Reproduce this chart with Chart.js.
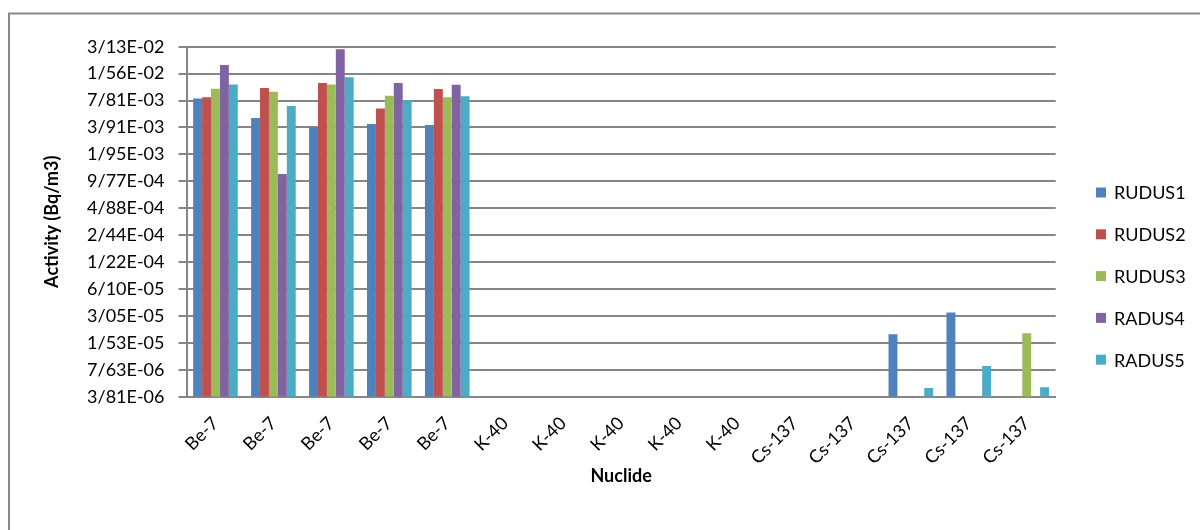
<!DOCTYPE html>
<html>
<head>
<meta charset="utf-8">
<title>Activity by nuclide</title>
<script src="https://cdn.jsdelivr.net/npm/chart.js@4.4.1/dist/chart.umd.min.js"></script>
<style>
  html, body { margin: 0; padding: 0; background: #ffffff; }
  #wrap { width: 1200px; height: 530px; }
</style>
</head>
<body>
<div id="wrap"><canvas id="chart" width="1200" height="530"></canvas></div>
<script>
// Sample categories (one per measured filter)
const categories = [
  'Be-7', 'Be-7', 'Be-7', 'Be-7', 'Be-7',
  'K-40', 'K-40', 'K-40', 'K-40', 'K-40',
  'Cs-137', 'Cs-137', 'Cs-137', 'Cs-137', 'Cs-137'
];

// Activity per station, Bq/m3 (null = not detected)
const rudus1 = [0.00826, 0.00499, 0.00394, 0.00428, 0.00416, null, null, null, null, null, null, null, 1.91e-5, 3.34e-5, null];
const rudus2 = [0.00848, 0.0108, 0.0123, 0.00635, 0.0105, null, null, null, null, null, null, null, null, null, null];
const rudus3 = [0.0106, 0.00982, 0.0118, 0.00886, 0.00848, null, null, null, null, null, null, null, null, null, 1.95e-5];
const radus4 = [0.0195, 0.00118, 0.0292, 0.0123, 0.0117, null, null, null, null, null, null, null, null, null, null];
const radus5 = [0.0118, 0.00677, 0.0142, 0.00794, 0.00873, null, null, null, null, null, null, null, 4.77e-6, 8.43e-6, 4.87e-6];

const seriesNames = ['RUDUS1', 'RUDUS2', 'RUDUS3', 'RADUS4', 'RADUS5'];

// Axis runs in powers of two
const tickExponents = [-18, -17, -16, -15, -14, -13, -12, -11, -10, -9, -8, -7, -6, -5];
const tickLabels = [
  '3/81E-06', '7/63E-06', '1/53E-05', '3/05E-05', '6/10E-05', '1/22E-04', '2/44E-04',
  '4/88E-04', '9/77E-04', '1/95E-03', '3/91E-03', '7/81E-03', '1/56E-02', '3/13E-02'
];
const tickValues = tickExponents.map(e => Math.pow(2, e));

const colors = ['#4F81BD', '#C0504D', '#9BBB59', '#8064A2', '#4BACC6'];
const FONT = 'Lato, "Open Sans", "Liberation Sans", sans-serif';
const GRID = '#868686';

const seriesData = [rudus1, rudus2, rudus3, radus4, radus5];

// Frame around the whole chart object
const framePlugin = {
  id: 'frame',
  beforeDraw(chart) {
    const ctx = chart.ctx;
    ctx.save();
    ctx.strokeStyle = '#8a8a8a';
    ctx.lineWidth = 2;
    ctx.beginPath();
    ctx.moveTo(9, 540);
    ctx.lineTo(9, 13.5);
    ctx.lineTo(1210, 13.5);
    ctx.stroke();
    ctx.restore();
  }
};

// Legend listed down the right-hand side
const sideLegend = {
  id: 'sideLegend',
  afterDraw(chart) {
    const ctx = chart.ctx;
    ctx.save();
    ctx.font = '18px ' + FONT;
    ctx.textBaseline = 'middle';
    ctx.textAlign = 'left';
    chart.data.datasets.forEach((ds, i) => {
      const cy = 192.5 + i * 41.8;
      ctx.fillStyle = ds.backgroundColor;
      ctx.fillRect(1096, cy - 5, 10, 10);
      ctx.fillStyle = '#000000';
      ctx.fillText(ds.label, 1114, cy + 1);
    });
    ctx.restore();
  }
};

new Chart(document.getElementById('chart'), {
  type: 'bar',
  data: {
    labels: categories,
    datasets: seriesNames.map((name, i) => ({
      label: name,
      data: seriesData[i],
      backgroundColor: colors[i],
      borderWidth: 0,
      categoryPercentage: 0.77,
      barPercentage: 1.0
    }))
  },
  options: {
    responsive: false,
    animation: false,
    devicePixelRatio: 1,
    layout: { padding: { left: 0, top: 46.7, right: 144.3, bottom: 0 } },
    plugins: {
      legend: { display: false },
      tooltip: { enabled: false }
    },
    scales: {
      x: {
        grid: { display: false },
        border: { display: true, color: GRID, width: 2 },
        ticks: {
          autoSkip: false,
          maxRotation: 45,
          minRotation: 45,
          padding: 8,
          color: '#000000',
          font: { family: FONT, size: 18 }
        },
        title: {
          display: true,
          text: 'Nuclide',
          color: '#000000',
          font: { family: FONT, size: 18, weight: 'bold' },
          padding: { top: 0, bottom: 43 }
        },
        afterFit(scale) { scale.height = 133.3; }
      },
      y: {
        type: 'logarithmic',
        min: tickValues[0],
        max: tickValues[tickValues.length - 1],
        afterBuildTicks(scale) {
          scale.ticks = tickValues.map(v => ({ value: v }));
        },
        grid: { color: GRID, lineWidth: 2, tickLength: 8, drawTicks: true },
        border: { display: true, color: GRID, width: 2 },
        ticks: {
          autoSkip: false,
          padding: 14,
          color: '#000000',
          font: { family: FONT, size: 18 },
          callback: (value, index) => tickLabels[index]
        },
        title: {
          display: true,
          text: 'Activity (Bq/m3)',
          color: '#000000',
          font: { family: FONT, size: 18, weight: 'bold' },
          padding: { top: 41, bottom: 0 }
        },
        afterFit(scale) { scale.width = 186.5; }
      }
    }
  },
  plugins: [framePlugin, sideLegend]
});
</script>
</body>
</html>
